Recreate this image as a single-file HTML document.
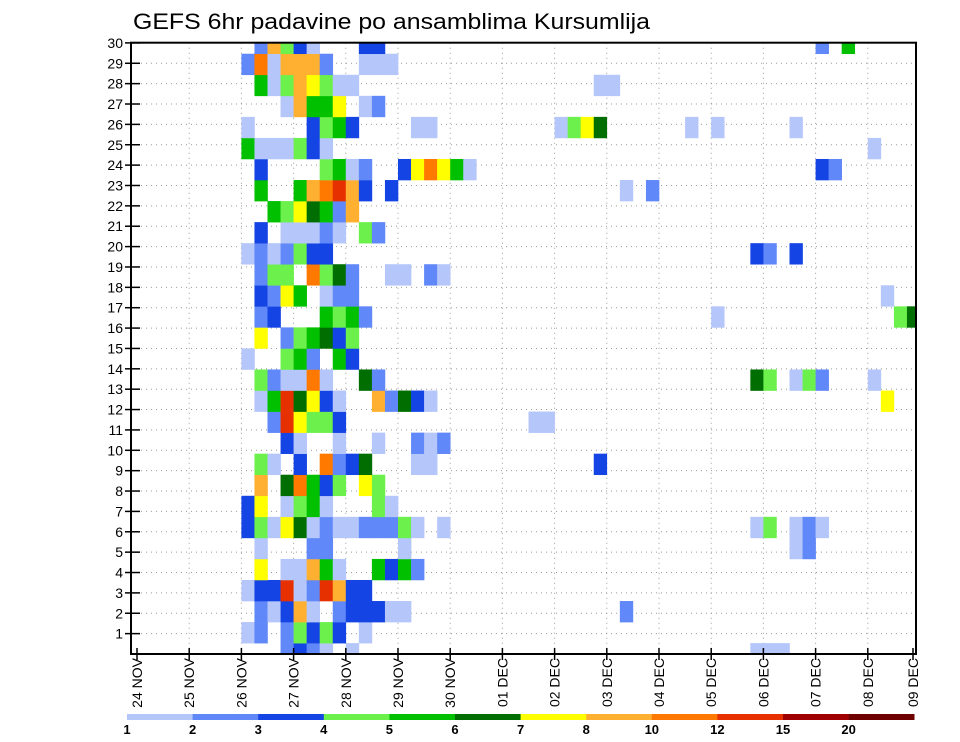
<!DOCTYPE html>
<html><head><meta charset="utf-8"><style>
html,body{margin:0;padding:0;background:#fff;}
svg{display:block;font-family:"Liberation Sans",sans-serif;}
</style></head><body>
<svg id="chart" width="960" height="742" viewBox="0 0 960 742" xmlns="http://www.w3.org/2000/svg">
<text x="133" y="29" font-size="22" textLength="517" lengthAdjust="spacingAndGlyphs" fill="#000">GEFS 6hr padavine po ansamblima Kursumlija</text>
<defs><clipPath id="plotclip"><rect x="131" y="42.7" width="785" height="611.3"/></clipPath></defs>
<g id="grid"></g>
<g id="cells" clip-path="url(#plotclip)"></g>
<g id="axes"></g>
<g id="legend"></g>
</svg>
<script>
// ---- data ----
const dayLabels = ["24 NOV","25 NOV","26 NOV","27 NOV","28 NOV","29 NOV","30 NOV","01 DEC","02 DEC","03 DEC","04 DEC","05 DEC","06 DEC","07 DEC","08 DEC","09 DEC"];
const memberTicks = [1,2,3,4,5,6,7,8,9,10,11,12,13,14,15,16,17,18,19,20,21,22,23,24,25,26,27,28,29,30];
const legendLabels = ["1","2","3","4","5","6","7","8","10","12","15","20"];
const levelColors = ["#b4c6fa","#6088f8","#1444e4","#6cf04c","#00c000","#006e00","#ffff00","#ffb030","#ff7800","#e63000","#a00000","#6e0000"];
// each entry: [member, 6h step index from 24 NOV 00z, precip class 1..12]
const cellMembers = [];
const cellSteps = [];
const cellLevels = [];
const rawRows = {
30:"9:2,10:8,11:4,12:3,13:1,17:3,18:3,52:2,54:5",
29:"8:2,9:9,10:1,11:8,12:8,13:8,14:2,17:1,18:1,19:1",
28:"9:5,10:1,11:4,12:8,13:7,14:4,15:1,16:1,35:1,36:1",
27:"11:1,12:8,13:5,14:5,15:7,17:1,18:2",
26:"8:1,13:3,14:4,15:5,16:3,21:1,22:1,32:1,33:4,34:7,35:6,42:1,44:1,50:1",
25:"8:5,9:1,10:1,11:1,12:4,13:3,14:1,56:1",
24:"9:3,14:4,15:5,16:1,17:2,20:3,21:7,22:9,23:7,24:5,25:1,52:3,53:2",
23:"9:5,12:5,13:8,14:9,15:10,16:8,17:3,19:3,37:1,39:2",
22:"10:5,11:4,12:7,13:6,14:5,15:2,16:8",
21:"9:3,11:1,12:1,13:1,14:2,15:1,17:4,18:2",
20:"8:1,9:2,10:1,11:2,12:4,13:3,14:3,47:3,48:2,50:3",
19:"9:2,10:4,11:4,13:9,14:4,15:6,16:2,19:1,20:1,22:2,23:1",
18:"9:3,10:2,11:7,12:5,14:1,15:2,16:2,57:1",
17:"9:2,10:3,14:5,15:4,16:5,17:2,44:1,58:4,59:6",
16:"9:7,11:2,12:4,13:5,14:6,15:3,16:4",
15:"8:1,11:4,12:5,13:2,15:5,16:3",
14:"9:4,10:2,11:1,12:1,13:9,14:1,17:6,18:2,47:6,48:4,50:1,51:4,52:2,56:1",
13:"9:1,10:5,11:10,12:6,13:7,14:3,15:1,18:8,19:2,20:6,21:3,22:1,57:7",
12:"10:2,11:10,12:7,13:4,14:4,15:3,30:1,31:1",
11:"11:3,12:1,15:1,18:1,21:2,22:1,23:2",
10:"9:4,10:1,12:3,14:9,15:2,16:3,17:6,21:1,22:1,35:3",
9:"9:8,11:6,12:9,13:5,14:3,15:4,17:7,18:4",
8:"8:3,9:7,11:1,12:4,13:5,14:1,18:4,19:1",
7:"8:3,9:4,10:1,11:7,12:6,13:1,14:2,15:1,16:1,17:2,18:2,19:2,20:4,21:1,23:1,47:1,48:4,50:1,51:2,52:1",
6:"9:1,13:2,14:2,20:1,50:1,51:2",
5:"9:7,11:1,12:1,13:8,14:5,15:1,18:5,19:3,20:5,21:2",
4:"8:1,9:3,10:3,11:10,12:1,13:2,14:10,15:8,16:3,17:3",
3:"9:2,10:1,11:3,12:8,13:1,15:2,16:3,17:3,18:3,19:1,20:1,37:2",
2:"8:1,9:2,11:2,12:4,13:3,14:4,15:3,17:1",
1:"11:2,12:3,13:2,14:1,16:1,47:1,48:1,49:1"
};
Object.keys(rawRows).forEach(m=>{
  rawRows[m].split(",").forEach(p=>{const a=p.split(":");cellMembers.push(+m);cellSteps.push(+a[0]);cellLevels.push(+a[1]);});
});

// ---- scales ----
const NS="http://www.w3.org/2000/svg";
const X0=137, DAYW=52.2, STEPW=DAYW/4;
const xDay=d=>X0+d*DAYW;
const xStep=s=>X0+s*STEPW;
const yTick=k=>654-k*20.37;
const BANDH=21.05;
const yBandCenter=m=>674.7-BANDH*m;
const L=131,R=916,T=42.7,B=654;
function mk(tag,attrs,parent){const e=document.createElementNS(NS,tag);for(const k in attrs)e.setAttribute(k,attrs[k]);parent.appendChild(e);return e;}

// grid
const grid=document.getElementById("grid");
for(let d=1;d<dayLabels.length-1;d++){
  const gl=mk("line",{x1:xDay(d),x2:xDay(d),y1:T,y2:B,stroke:"#999","stroke-width":1,"stroke-dasharray":"1,4"},grid);
  
  
}
memberTicks.forEach(k=>{
  const gl=mk("line",{x1:L,x2:R,y1:yTick(k),y2:yTick(k),stroke:"#999","stroke-width":1,"stroke-dasharray":"1,4"},grid);
  
  
});

// cells
const cg=document.getElementById("cells");
for(let i=0;i<cellMembers.length;i++){
  const r=mk("rect",{x:xStep(cellSteps[i]),y:yBandCenter(cellMembers[i])-BANDH/2,width:STEPW+0.3,height:BANDH+0.3,fill:levelColors[cellLevels[i]-1]},cg);
  
  
}

// axes
const ax=document.getElementById("axes");
const frame=mk("rect",{x:L,y:T,width:R-L,height:B-T,fill:"none",stroke:"#000","stroke-width":2},ax);


mk("line",{x1:X0,x2:X0,y1:B-6,y2:B+6,stroke:"#d04040","stroke-width":1},ax);
memberTicks.forEach(k=>{
  const t=mk("line",{x1:125,x2:140,y1:yTick(k),y2:yTick(k),stroke:"#000","stroke-width":1.5},ax);
  
  
  const tx=mk("text",{x:123,y:yTick(k)+5,"font-size":14,"text-anchor":"end",fill:"#000"},ax);
  tx.textContent=k;
  
  
});
dayLabels.forEach((lab,d)=>{
  const x=Math.min(xDay(d),R-3);
  const t=mk("line",{x1:x,x2:x,y1:B-6,y2:B+6,stroke:"#000","stroke-width":1.5},ax);
  
  
  const tx=mk("text",{x:0,y:0,"font-size":14,"text-anchor":"end",fill:"#000",transform:`translate(${x+5},658) rotate(-90)`},ax);
  tx.textContent=lab;
  
  
});

// legend
const lg=document.getElementById("legend");
const LX0=127, SEGW=65.6;
levelColors.forEach((c,i)=>{
  const r=mk("rect",{x:LX0+i*SEGW,y:714,width:SEGW+0.3,height:6,fill:c},lg);
  
  
});
legendLabels.forEach((lab,i)=>{
  const t=mk("text",{x:LX0+i*SEGW,y:734,"font-size":13,"font-weight":"bold","text-anchor":"middle",fill:"#000"},lg);
  t.textContent=lab;
  
  
});
</script>
</body></html>
